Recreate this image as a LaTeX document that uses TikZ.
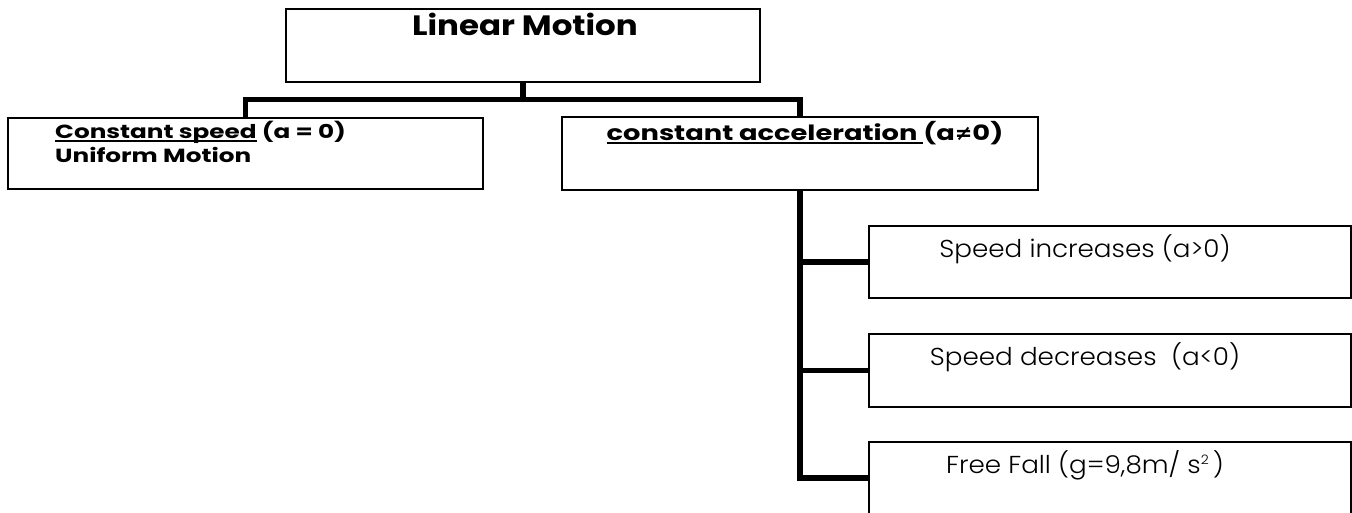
\documentclass[tikz,border=0pt]{standalone}
\usepackage{fontspec}
\setmainfont{Poppins}
\newfontfamily\titlefont{Poppins}[FakeStretch=1.16]
\newfontfamily\headfont{Poppins}[FakeStretch=1.3]
\newfontfamily\lightfont{Poppins Light}[FakeStretch=1.07]
\newfontfamily\symfont{DejaVu Sans}
% underline drawn as a rule just below the baseline
\newcommand{\uln}[1]{\setbox0\hbox{#1}\rlap{\rule[-3.5pt]{\wd0}{1.7pt}}\box0\relax}
% small raised exponent
\newcommand{\sqexp}[1]{\raisebox{8.5pt}{\fontsize{13}{13}\selectfont #1}}
\tikzset{
  box/.style={draw=black, line width=1.4pt, fill=white, anchor=north west,
    inner sep=0pt, outer sep=0pt},
  conn/.style={draw=black, line width=5.5pt, line join=miter},
  title/.style={anchor=base, inner sep=0pt, font=\titlefont\bfseries\fontsize{28}{30}\selectfont},
  head/.style={anchor=base west, inner sep=0pt, font=\headfont\bfseries\fontsize{19}{21}\selectfont},
  plain/.style={anchor=base, inner sep=0pt, font=\lightfont\fontsize{24.5}{26}\selectfont}
}
\begin{document}
\begin{tikzpicture}[x=1pt,y=-1pt]
\useasboundingbox (0,0) rectangle (1352,512);

% boxes
\node[box, minimum width=474pt, minimum height=73pt] (top) at (286,9) {};
\node[box, minimum width=475pt, minimum height=71pt] (left) at (8,118) {};
\node[box, minimum width=476pt, minimum height=73pt] (right) at (562,117) {};
\node[box, minimum width=482pt, minimum height=72pt] (s1) at (869,226) {};
\node[box, minimum width=482pt, minimum height=73pt] (s2) at (869,334) {};
\node[box, minimum width=482pt, minimum height=72pt] (s3) at (869,442) {};

% texts
\node[title] (tLM) at (525,35) {Linear Motion};
\node[head] (tCS) at (55,138) {\uln{Constant speed} (a = 0)};
\node[head] (tUM) at (55,162) {Uniform Motion};
\node[anchor=base, inner sep=0pt, font=\headfont\bfseries\fontsize{21}{23}\selectfont] (tCA) at (805,140)
  {\uln{constant acceleration }(a{\symfont\bfseries ≠}0)};
\node[plain] (tS1) at (1085,257) {Speed increases (a>0)};
\node[plain] (tS2) at (1085,365) {Speed decreases\ \ (a<0)};
\node[plain] (tS3) at (1085,473) {Free Fall (g=9,8m/ s\sqexp{2}\,)};

% connectors
\coordinate (jn) at (top.south |- 0,99.5);
\draw[conn] (top.south) -- (jn);
\draw[conn] (left.north) |- (jn) -| (right.north);
\draw[conn] (right.south) |- (s3.west);
\draw[conn] (s1.west) -- (s1.west -| right.south);
\draw[conn] (s2.west) -- (s2.west -| right.south);
\end{tikzpicture}
\end{document}
